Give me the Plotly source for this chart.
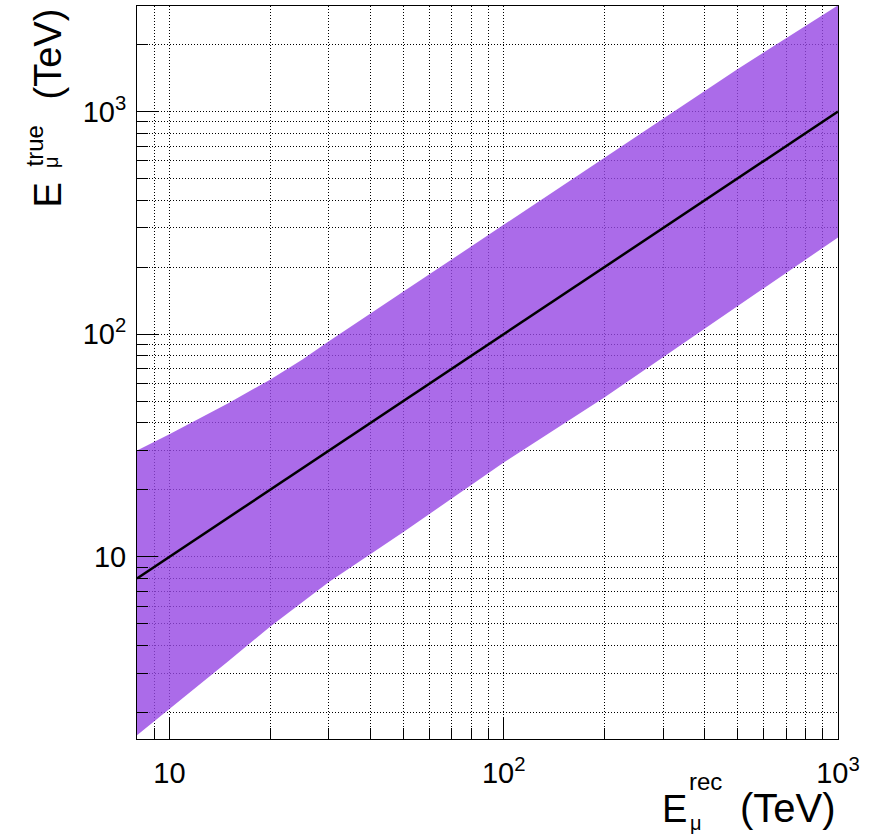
import plotly.graph_objects as go
import numpy as np

# ---- data ----
upper_x = [8, 10, 15, 20, 25, 30, 50, 100, 200, 500, 1000]
upper_y = [30, 35.5, 49, 62.5, 77, 93, 155, 310, 620, 1550, 3000]

lower_x = [8, 10, 15, 20, 30, 50, 100, 200, 500, 1000]
lower_y = [1.58, 2.07, 3.4, 4.85, 7.7, 12.9, 26.5, 52, 134, 272]

line_x = [8, 1000]
line_y = [8, 1000]

major_vals = [10, 100, 1000]
major_text = ["10", "10<sup>2</sup>", "10<sup>3</sup>"]
x_minor = [8, 9, 20, 30, 40, 50, 60, 70, 80, 90, 200, 300, 400, 500, 600, 700, 800, 900]
y_minor = [2, 3, 4, 5, 6, 7, 8, 9, 20, 30, 40, 50, 60, 70, 80, 90,
           200, 300, 400, 500, 600, 700, 800, 900, 2000]

x_range = [8, 1000]
y_range = [1.52, 2980]

FONT = "Liberation Sans"
W, H = 879, 836
ML, MR, MT, MB = 137, 41, 6, 97
PW, PH = W - ML - MR, H - MT - MB
DOT = "1px,2px"

fig = go.Figure()
fig.add_trace(go.Scatter(x=lower_x, y=lower_y, mode="lines", line=dict(width=0),
                         hoverinfo="skip", showlegend=False))
fig.add_trace(go.Scatter(x=upper_x, y=upper_y, mode="lines", line=dict(width=0),
                         fill="tonexty", fillcolor="rgba(150,70,228,0.8)",
                         hoverinfo="skip", showlegend=False))
fig.add_trace(go.Scatter(x=line_x, y=line_y, mode="lines",
                         line=dict(color="black", width=2.5), showlegend=False))

axis_common = dict(
    type="log", showline=True, linecolor="black", linewidth=1, mirror=True,
    ticks="inside", ticklen=21, tickcolor="black", tickwidth=1,
    tickvals=major_vals, ticktext=major_text,
    showgrid=True, gridcolor="black", griddash=DOT, gridwidth=1,
    zeroline=False, tickfont=dict(family=FONT, size=29, color="black"),
)

fig.update_xaxes(**axis_common, range=[np.log10(x_range[0]), np.log10(x_range[1])],
                 minor=dict(tickvals=x_minor, ticks="inside", ticklen=11, tickcolor="black",
                            showgrid=True, gridcolor="black", griddash=DOT, gridwidth=1),
                 ticklabelstandoff=8)
fig.update_yaxes(**axis_common, range=[np.log10(y_range[0]), np.log10(y_range[1])],
                 minor=dict(tickvals=y_minor, ticks="inside", ticklen=11, tickcolor="black",
                            showgrid=True, gridcolor="black", griddash=DOT, gridwidth=1),
                 ticklabelstandoff=4)


def px2paper(px, py):
    return (px - ML) / PW, (H - MB - py) / PH


def ann(text, px, py, size, xanchor="center", yanchor="middle", angle=0):
    x, y = px2paper(px, py)
    fig.add_annotation(text=text, x=x, y=y, xref="paper", yref="paper",
                       xanchor=xanchor, yanchor=yanchor, showarrow=False,
                       textangle=angle, font=dict(family=FONT, size=size, color="black"))


# x-axis title: E_mu^rec (TeV)
ann("E", 660, 809, 38, xanchor="left")
ann("rec", 687, 781, 24, xanchor="left")
ann("μ", 688, 823, 20, xanchor="left")
ann("(TeV)", 838, 808, 40, xanchor="right")

# y-axis title: E_mu^true (TeV)
ann("E", 47.5, 195, 38, angle=-90)
ann("true", 33.5, 146, 24, angle=-90)
ann("μ", 51, 162, 20, angle=-90)
ann("(TeV)", 47.5, 54, 38, angle=-90)

fig.update_layout(
    width=W, height=H, margin=dict(l=ML, r=MR, t=MT, b=MB),
    paper_bgcolor="white", plot_bgcolor="white", showlegend=False,
)

fig.write_html("out.html")
